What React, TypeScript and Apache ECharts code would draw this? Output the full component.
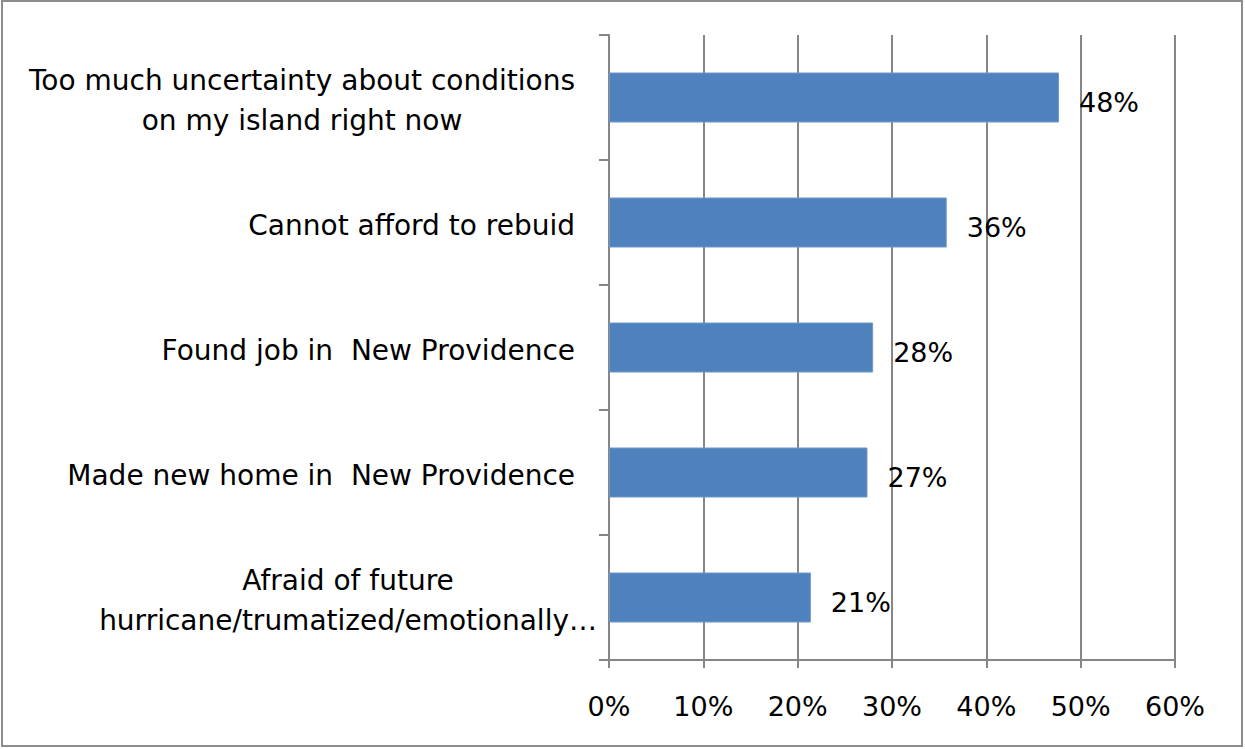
import React, { useEffect, useRef } from "react";
import * as echarts from "echarts";

const categories = [
  "Too much uncertainty about conditions\non my island right now",
  "Cannot afford to rebuid",
  "Found job in  New Providence",
  "Made new home in  New Providence",
  "Afraid of future\nhurricane/trumatized/emotionally…",
];
const values = [47.7, 35.8, 28.0, 27.4, 21.4];
const xTicks = [0, 10, 20, 30, 40, 50, 60];

const FONT = "DejaVu Sans";

export default function App() {
  const ref = useRef<HTMLDivElement>(null);
  useEffect(() => {
    document.body.style.margin = "0";
    const chart = echarts.init(ref.current!, null, { renderer: "svg" });
    const catData = categories.map((c, i) => ({
      value: c,
      textStyle: { padding: i === categories.length - 1 ? [6, 0, 0, 0] : [6, 22, 0, 0] },
    }));
    chart.setOption({
      animation: false,
      backgroundColor: "#ffffff",
      textStyle: { fontFamily: FONT },
      graphic: [
        {
          type: "rect",
          shape: { x: 2, y: 1, width: 1240, height: 745 },
          style: { fill: "none", stroke: "#8c8c8c", lineWidth: 2 },
          silent: true,
        },
      ],
      grid: { left: 609, right: 70, top: 35, bottom: 89, containLabel: false },
      xAxis: {
        type: "value",
        min: xTicks[0],
        max: xTicks[xTicks.length - 1],
        interval: 10,
        axisLine: { show: true, lineStyle: { color: "#868686", width: 2 } },
        axisTick: { show: true, length: 8, lineStyle: { color: "#868686", width: 2 } },
        splitLine: { show: true, lineStyle: { color: "#868686", width: 2 } },
        axisLabel: {
          formatter: "{value}%",
          color: "#000",
          fontSize: 27,
          fontFamily: FONT,
          margin: 33,
        },
      },
      yAxis: {
        type: "category",
        inverse: true,
        data: catData,
        axisLine: { show: true, lineStyle: { color: "#868686", width: 2 } },
        axisTick: { show: true, length: 10, lineStyle: { color: "#868686", width: 2 } },
        axisLabel: {
          color: "#000",
          fontSize: 28,
          fontFamily: FONT,
          margin: 12,
          align: "right",
          formatter: (v: string) =>
            v
              .split("\n")
              .map((l) => `{c|${l}}`)
              .join("\n"),
          rich: {
            c: { align: "center", fontSize: 28, fontFamily: FONT, color: "#000", lineHeight: 40 },
          },
        },
      },
      series: [
        {
          type: "bar",
          data: values,
          barWidth: 50,
          itemStyle: { color: "#4F81BD", borderColor: "#6f97cc", borderWidth: 1 },
          label: {
            show: true,
            position: "right",
            distance: 20,
            offset: [0, 5],
            color: "#000",
            fontSize: 27,
            fontFamily: FONT,
            formatter: (p: any) => Math.round(p.value) + "%",
          },
        },
      ],
    });
    return () => chart.dispose();
  }, []);
  return <div ref={ref} style={{ width: 1245, height: 749 }} />;
}
